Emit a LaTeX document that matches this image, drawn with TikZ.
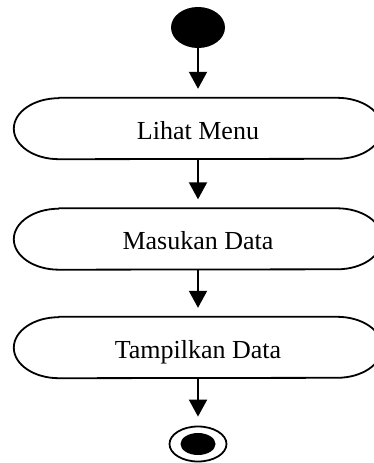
\documentclass[tikz,border=0pt]{standalone}
\usepackage{fontspec}
\setmainfont{Liberation Serif}
\usetikzlibrary{arrows.meta,shapes.geometric}

\tikzset{
  flow/.style={line width=2pt, -{Triangle[width=18pt,length=17pt]}, shorten >=9pt},
  pilltext/.style={minimum width=368pt, minimum height=61pt, inner sep=0pt,
    text height=21pt, text depth=0pt, font=\fontsize{26}{30}\selectfont},
  pilledge/.style={line width=1.8pt, line join=round},
}

% activity box with elliptical ends drawn round a text node
\newcommand{\activity}[3]{%
  \node[pilltext] (#1) at (198,#2) {#3};
  \draw[pilledge] ([xshift=45pt]#1.north west) -- ([xshift=-45pt]#1.north east)
    arc[start angle=90, end angle=-90, x radius=45pt, y radius=30.5pt]
    -- ([xshift=45pt]#1.south west)
    arc[start angle=270, end angle=90, x radius=45pt, y radius=30.5pt] -- cycle;
}

\begin{document}
\begin{tikzpicture}[x=1pt,y=-1pt]
  \useasboundingbox (0,0) rectangle (374,463);

  % initial state
  \node[ellipse, fill=black, minimum width=54pt, minimum height=41pt, inner sep=0pt] (start) at (198,27.5) {};

  \activity{menu}{128.5}{Lihat Menu}
  \activity{input}{239}{Masukan Data}
  \activity{show}{347.5}{Tampilkan Data}

  % final state
  \node[ellipse, draw, line width=1.8pt, minimum width=57pt, minimum height=35pt, inner sep=0pt] (final) at (198,444) {};
  \node[ellipse, fill=black, minimum width=35pt, minimum height=22pt, inner sep=0pt] (finaldot) at (final.center) {};

  \draw[flow] (start.south) -- (menu.north);
  \draw[flow] (menu.south) -- (input.north);
  \draw[flow] (input.south) -- (show.north);
  \draw[flow] (show.south) -- (final.north);
\end{tikzpicture}
\end{document}
